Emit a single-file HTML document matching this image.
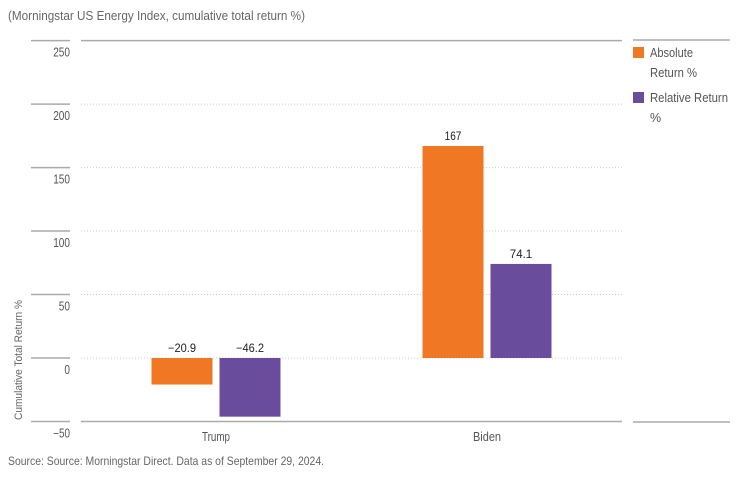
<!DOCTYPE html>
<html><head><meta charset="utf-8"><style>
body{margin:0;background:#fff;}
svg text{font-family:"Liberation Sans Narrow","Liberation Sans",sans-serif;}
</style></head><body>
<svg id="chart" width="743" height="473" viewBox="0 0 743 473" xmlns="http://www.w3.org/2000/svg">
<text x="8" y="20" font-size="12.5" fill="#666" textLength="297" lengthAdjust="spacingAndGlyphs">(Morningstar US Energy Index, cumulative total return %)</text>
<g id="axes"></g>
<g id="bars"></g>
<text transform="translate(22,360) rotate(-90)" text-anchor="middle" font-size="11" fill="#666" textLength="120" lengthAdjust="spacingAndGlyphs">Cumulative Total Return %</text>
<line x1="633" y1="40" x2="730" y2="40" stroke="#aaa" stroke-width="1.5"/>
<line x1="633" y1="422" x2="730" y2="422" stroke="#aaa" stroke-width="1.5"/>
<g>
<rect x="633" y="47" width="11" height="11" fill="#f07723"/>
<text x="650" y="57" font-size="12.5" fill="#555" textLength="43" lengthAdjust="spacingAndGlyphs">Absolute</text>
<text x="650" y="77" font-size="12.5" fill="#555" textLength="47" lengthAdjust="spacingAndGlyphs">Return %</text>
</g>
<g>
<rect x="633" y="92" width="11" height="11" fill="#6a4c9c"/>
<text x="650" y="102" font-size="12.5" fill="#555" textLength="78" lengthAdjust="spacingAndGlyphs">Relative Return</text>
<text x="650" y="122" font-size="12.5" fill="#555">%</text>
</g>
<text x="8" y="465" font-size="12" fill="#666" textLength="316" lengthAdjust="spacingAndGlyphs">Source: Source: Morningstar Direct. Data as of September 29, 2024.</text>
</svg>
<script>
const categories=["Trump","Biden"];
const absoluteValues=[-20.9,167];
const relativeValues=[-46.2,74.1];
const absoluteLabels=["\u221220.9","167"];
const relativeLabels=["\u221246.2","74.1"];
const yTicks=[-50,0,50,100,150,200,250];
const yTickLabels=["\u221250","0","50","100","150","200","250"];

const NS="http://www.w3.org/2000/svg";
const y0=358, pxPer=212/167;
function yScale(v){return y0-v*pxPer;}
const catCenters=[216,487];
function xScale(i){return catCenters[i];}
const axes=document.getElementById('axes');
const bars=document.getElementById('bars');
function mk(tag,attrs,parent){const e=document.createElementNS(NS,tag);for(const k in attrs)e.setAttribute(k,attrs[k]);parent.appendChild(e);return e;}
function narrow(t){const ch=t.textContent.length;t.setAttribute('textLength',(ch*5.6).toFixed(1));t.setAttribute('lengthAdjust','spacingAndGlyphs');}

yTicks.forEach((t,i)=>{
  const y=yScale(t);
  const edge=(i===0||i===yTicks.length-1);
  const g=mk('line',{x1:81,x2:622,y1:y,y2:y,stroke:edge?'#aaa':'#ccc','stroke-width':edge?1.5:1,'stroke-dasharray':edge?'none':'1,2'},axes);
  
  
  const s=mk('line',{x1:31,x2:70,y1:y,y2:y,stroke:'#aaa','stroke-width':1.5},axes);
  
  
  const tx=mk('text',{x:70,y:y+16,'text-anchor':'end','font-size':12.5,fill:'#555'},axes);
  tx.textContent=yTickLabels[i];
  narrow(tx);
  
  
});

const bw=61, gap=7;
categories.forEach((c,i)=>{
  const cx=xScale(i);
  [[absoluteValues[i],absoluteLabels[i],'#f07723',cx-gap/2-bw,'bar-absolute'],[relativeValues[i],relativeLabels[i],'#6a4c9c',cx+gap/2,'bar-relative']].forEach(([v,lab,col,x,nm])=>{
    const yt=Math.min(yScale(v),y0), h=Math.abs(yScale(v)-y0);
    const r=mk('rect',{x:x,y:yt,width:bw,height:h,fill:col},bars);
    
    
    const ly=v>=0?yScale(v)-6:y0-6;
    const t=mk('text',{x:x+bw/2,y:ly,'text-anchor':'middle','font-size':11.5,fill:'#222'},bars);
    t.textContent=lab;
    narrow(t);
    
    
  });
  const cl=mk('text',{x:cx,y:441,'text-anchor':'middle','font-size':12.5,fill:'#555'},bars);
  cl.textContent=c;
  narrow(cl);
  
  
});
</script>
</body></html>
